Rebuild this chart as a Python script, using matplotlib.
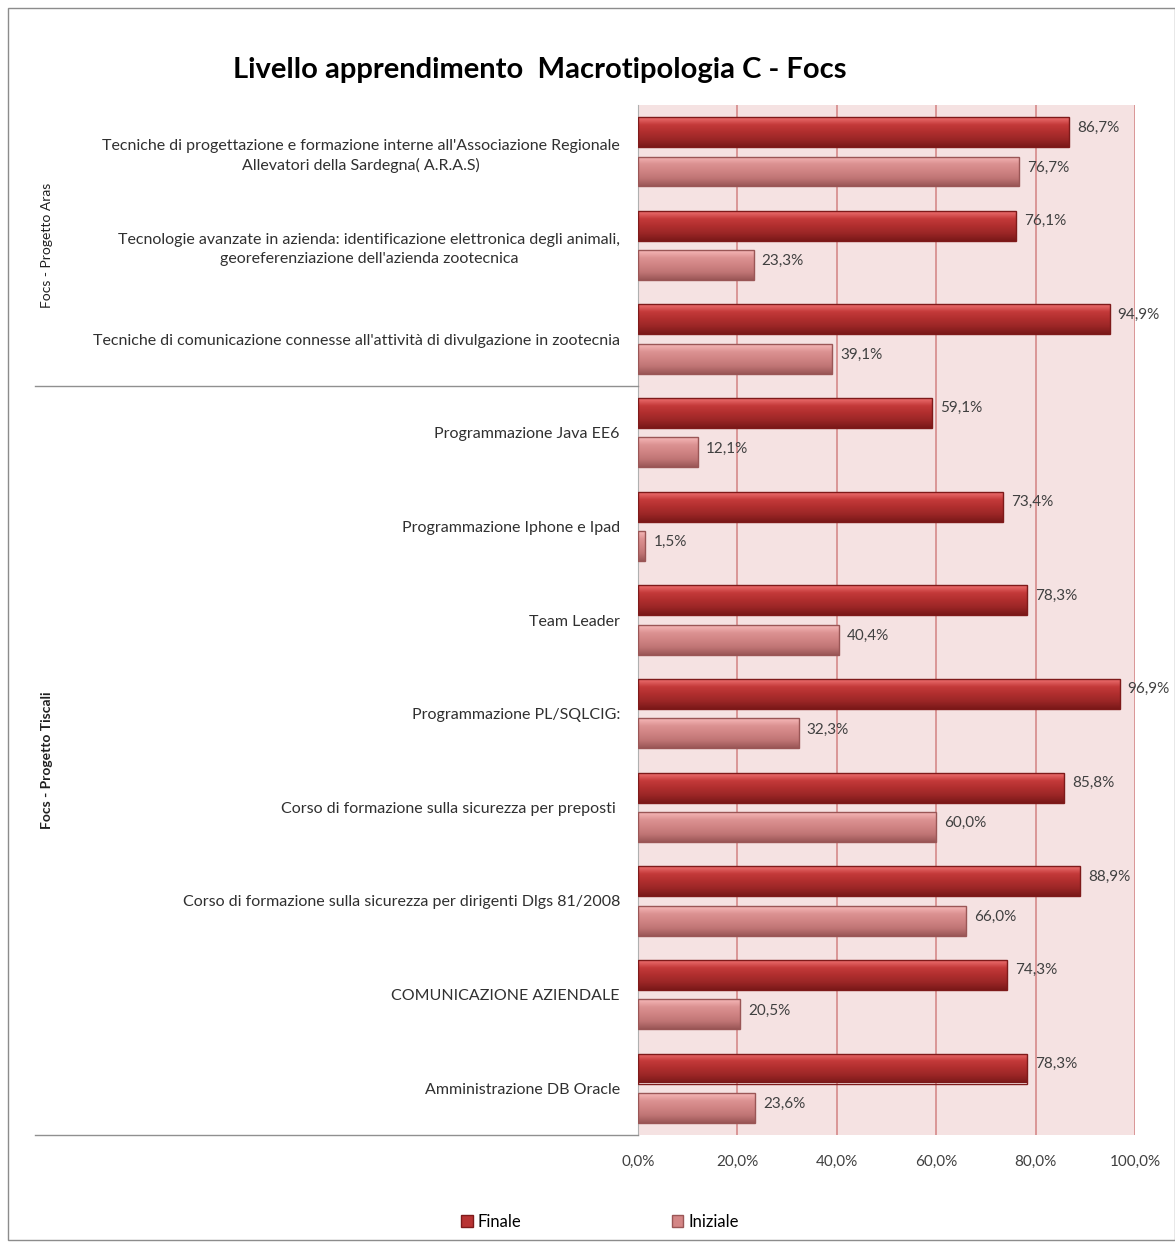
import matplotlib
matplotlib.use("Agg")
import matplotlib.pyplot as plt
from matplotlib.patches import Rectangle
from matplotlib.lines import Line2D
from matplotlib.colors import LinearSegmentedColormap
import numpy as np

categories = [
    "Tecniche di progettazione e formazione interne all'Associazione Regionale\nAllevatori della Sardegna( A.R.A.S)",
    "Tecnologie avanzate in azienda: identificazione elettronica degli animali,\ngeoreferenziazione dell'azienda zootecnica",
    "Tecniche di comunicazione connesse all'attività di divulgazione in zootecnia",
    "Programmazione Java EE6",
    "Programmazione Iphone e Ipad",
    "Team Leader",
    "Programmazione PL/SQLCIG:",
    "Corso di formazione sulla sicurezza per preposti ",
    "Corso di formazione sulla sicurezza per dirigenti Dlgs 81/2008",
    "COMUNICAZIONE AZIENDALE",
    "Amministrazione DB Oracle",
]
finale = [86.7, 76.1, 94.9, 59.1, 73.4, 78.3, 96.9, 85.8, 88.9, 74.3, 78.3]
iniziale = [76.7, 23.3, 39.1, 12.1, 1.5, 40.4, 32.3, 60.0, 66.0, 20.5, 23.6]
groups = ["Focs - Progetto Aras", "Focs - Progetto Tiscali"]
group_sizes = [3, 8]
xticks = [0, 20, 40, 60, 80, 100]
title = "Livello apprendimento  Macrotipologia C - Focs"

W, H = 1175, 1246
fig = plt.figure(figsize=(W / 100, H / 100), dpi=100)
plt.rcParams['font.family'] = ['Lato', 'DejaVu Sans']

x0, x1 = 638, 1135
y0, y1 = 105, 1135
ax = fig.add_axes([x0 / W, 1 - y1 / H, (x1 - x0) / W, (y1 - y0) / H])
ax.set_facecolor('#f5e2e2')

n = len(categories)
ypos = np.arange(n)
bh = 0.32
off = 0.21
fin_col, fin_edge = '#b83333', '#7e1a1a'
ini_col, ini_edge = '#d48686', '#9a5656'
fin_cmap = LinearSegmentedColormap.from_list('fin', ['#ee7070', '#c43a3a', '#b02e2e', '#9a2626', '#7a1818'])
ini_cmap = LinearSegmentedColormap.from_list('ini', ['#f6b8b8', '#dc9292', '#d08484', '#bf7474', '#9a5656'])
grad = np.linspace(0, 1, 64).reshape(-1, 1)

def gbar(yc, val, cmap, edge):
    r = ax.barh(yc, val, height=bh, color='none', edgecolor=edge, lw=1.0, zorder=4)[0]
    im = ax.imshow(grad, cmap=cmap, aspect='auto', extent=[0, val, yc + bh / 2, yc - bh / 2],
                   origin='upper', zorder=3, interpolation='bilinear')
    im.set_clip_path(r)

for i in range(n):
    gbar(i - off, finale[i], fin_cmap, fin_edge)
    gbar(i + off, iniziale[i], ini_cmap, ini_edge)
    ax.text(finale[i] + 1.6, i - off - 0.05, f"{finale[i]:.1f}%".replace('.', ','),
            va='center', ha='left', fontsize=11, color='#404040', zorder=5)
    ax.text(iniziale[i] + 1.6, i + off - 0.04, f"{iniziale[i]:.1f}%".replace('.', ','),
            va='center', ha='left', fontsize=11, color='#404040', zorder=5)

ax.set_ylim(n - 0.5, -0.5)
ax.set_xlim(0, 100)
ax.set_aspect('auto')
ax.set_xticks(xticks)
ax.set_xticklabels([f"{v:.1f}%".replace('.', ',') for v in xticks], fontsize=11, color='#404040')
ax.tick_params(axis='x', length=0, pad=14)
ax.set_yticks(ypos)
ax.set_yticklabels(categories, fontsize=11.5, color='#303030', multialignment='center', linespacing=1.45)
ax.tick_params(axis='y', length=0, pad=13)
for v in xticks:
    ax.axvline(v, color='#d58a8a', lw=1.2, zorder=1)
for s in ['top', 'right', 'bottom']:
    ax.spines[s].set_visible(False)
ax.spines['left'].set_color('#b0b0b0')

# group dividers and labels
start = 0
gx = 35 / W
for g, sz in zip(groups, group_sizes):
    end = start + sz
    yb = ax.transData.transform((0, end - 0.5))[1] / (H)
    yt = ax.transData.transform((0, start - 0.5))[1] / (H)
    fig.add_artist(Line2D([gx, x0 / W], [yb, yb], color='#909090', lw=1))
    fig.text(47 / W, (yb + yt) / 2, g, rotation=90, ha='center', va='center', fontsize=10,
             color='#202020', fontweight='bold' if 'Tiscali' in g else 'normal')
    start = end

fig.text(540 / W, 1 - 70 / H, title, ha='center', va='center', fontsize=21, fontweight='bold', color='#000000')

# outer frame
fig.add_artist(Rectangle((8 / W, 6 / H), (W - 8) / W, (H - 14) / H, fill=False, edgecolor='#8c8c8c', lw=1,
                         transform=fig.transFigure))

handles = [Rectangle((0, 0), 1, 1, facecolor=fin_col, edgecolor=fin_edge),
           Rectangle((0, 0), 1, 1, facecolor=ini_col, edgecolor=ini_edge)]
fig.legend(handles, ["Finale", "Iniziale"], loc='center', bbox_to_anchor=(600 / W, 1 - 1222 / H), ncol=2,
           frameon=False, fontsize=12, handlelength=0.7, handleheight=0.7, handletextpad=0.3, columnspacing=9)

fig.savefig('out.png', dpi=100)
